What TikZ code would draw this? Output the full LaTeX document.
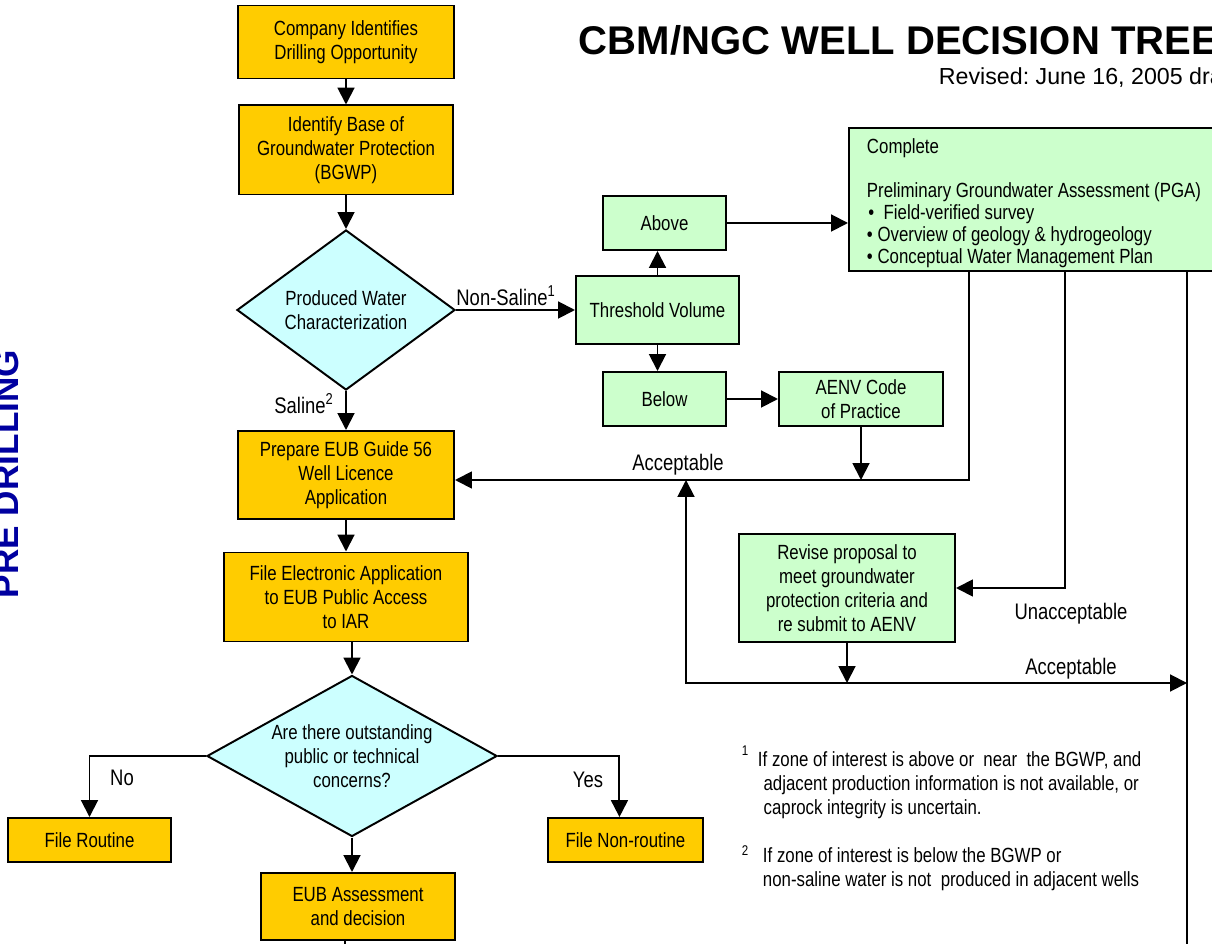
\documentclass[tikz,border=0pt]{standalone}
\usepackage{fontspec}
\setmainfont{Liberation Sans}
\newfontfamily\narrowfont[FakeStretch=0.82]{Liberation Sans}
\usetikzlibrary{arrows.meta,shapes.geometric}
\definecolor{wellorange}{HTML}{FFCC00}
\definecolor{wellgreen}{HTML}{CCFFCC}
\definecolor{wellcyan}{HTML}{CCFFFF}
\definecolor{wellblue}{HTML}{0000A0}
\frenchspacing

\begin{document}
\begin{tikzpicture}[x=0.025cm, y=-0.025cm, line width=1.4pt,
  box/.style={draw, line width=1.4pt, align=center, inner sep=0pt, font=\narrowfont\fontsize{14.6}{17}\selectfont},
  orangebox/.style={box, fill=wellorange},
  greenbox/.style={box, fill=wellgreen},
  decision/.style={box, diamond, fill=wellcyan},
  arr/.style={-{Triangle[length=12pt,width=12pt]}},
  arrboth/.style={{Triangle[length=12pt,width=12pt]}-{Triangle[length=12pt,width=12pt]}},
  lbl/.style={inner sep=0pt, font=\narrowfont\fontsize{16}{18}\selectfont},
  note/.style={inner sep=0pt, align=left, font=\narrowfont\fontsize{14.6}{17}\selectfont}]
% Page size in pixels of the original sheet
\useasboundingbox (0,0) rectangle (1212,944);

% Title and side heading
\node[anchor=west, inner sep=0pt, font=\bfseries\fontsize{28.5}{34}\selectfont] (title) at (578,40) {CBM/NGC WELL DECISION TREE};
\node[anchor=west, inner sep=0pt, font=\fontsize{16.5}{19}\selectfont] (revised) at (938,78) {Revised: June 16, 2005 draft};
\node[rotate=90, anchor=base, inner sep=0pt, text=wellblue, font=\bfseries\fontsize{25}{30}\selectfont] (stage) at (18,474) {PRE DRILLING};

% Main column
\node[orangebox, minimum width=5.4cm, minimum height=1.825cm] (company) at (346,42) {Company Identifies\\Drilling Opportunity};
\node[orangebox, minimum width=5.35cm, minimum height=2.225cm] (bgwp) at (346,150) {Identify Base of\\Groundwater Protection\\(BGWP)};
\node[decision, aspect=1.36, minimum width=5.45cm, minimum height=4cm] (water) at (346,310) {Produced Water\\Characterization};
\node[orangebox, minimum width=5.4cm, minimum height=2.2cm] (prepare) at (346,475) {Prepare EUB Guide 56\\Well Licence\\Application};
\node[orangebox, minimum width=6.1cm, minimum height=2.225cm] (efile) at (346,597) {File Electronic Application\\to EUB Public Access\\to IAR};
\node[decision, aspect=1.8, minimum width=7.25cm, minimum height=4.025cm] (concern) at (352,756) {Are there outstanding\\public or technical\\concerns?};
\node[orangebox, minimum width=4.075cm, minimum height=1.1cm] (routine) at (89.5,840) {File Routine};
\node[orangebox, minimum width=3.875cm, minimum height=1.1cm] (nonroutine) at (625.5,840) {File Non-routine};
\node[orangebox, minimum width=4.85cm, minimum height=1.675cm] (eub) at (358,906.5) {EUB Assessment\\and decision};

% Groundwater branch
\node[greenbox, minimum width=4.075cm, minimum height=1.7cm] (threshold) at (657.5,310) {Threshold Volume};
\node[greenbox, minimum width=3.075cm, minimum height=1.35cm] (above) at (664.5,223) {Above};
\node[greenbox, minimum width=3.075cm, minimum height=1.35cm] (below) at (664.5,399) {Below};
\node[greenbox, minimum width=4.1cm, minimum height=1.35cm] (aenv) at (861,399) {AENV Code\\of Practice};
\node[greenbox, anchor=north west, minimum width=10cm, minimum height=3.575cm] (pga) at (848,127) {};
\node[note, anchor=north west, font=\narrowfont\fontsize{14.6}{15.6}\selectfont] (pgatext) at (866,138) {Complete\\[15.6pt]Preliminary Groundwater Assessment (PGA)\\\hspace{1pt}\textbullet\ \ Field-verified survey\\\textbullet\ Overview of geology \& hydrogeology\\\textbullet\ Conceptual Water Management Plan};
\node[greenbox, minimum width=5.4cm, minimum height=2.7cm] (revise) at (847,588) {Revise proposal to\\meet groundwater\\protection criteria and\\re submit to AENV};

% Connector labels
\node[lbl] (salinelbl) at (304,404) {Saline\textsuperscript{2}};
\node[lbl] (nonsalinelbl) at (506,296) {Non-Saline\textsuperscript{1}};
\node[lbl] (acclbl) at (678,465) {Acceptable};
\node[lbl] (unacclbl) at (1071,614) {Unacceptable};
\node[lbl] (acclbl2) at (1071,669) {Acceptable};
\node[lbl] (nolbl) at (122,778) {No};
\node[lbl] (yeslbl) at (588,780) {Yes};

% Connectors
\draw[arr] (company) -- (bgwp);
\draw[arr] (bgwp) -- (water);
\draw[arr] (water) -- (prepare);
\draw[arr] (water.east) -- (threshold.west);
\draw[arr] (threshold.north) -- (threshold.north |- above.south);
\draw[arr] (threshold.south) -- (threshold.south |- below.north);
\draw[arr] (above) -- (above -| pga.west);
\draw[arr] (below) -- (aenv);
\coordinate (accept) at (969,480);
\draw[arr] (aenv.south) -- (aenv.south |- accept);
\draw[arr] (pga.south west -| accept) -- (accept) -- (accept -| prepare.east);
\coordinate (unaccept) at (1065,588);
\draw[arr] (pga.south west -| unaccept) -- (unaccept) -- (unaccept -| revise.east);
\coordinate (rightend) at (1187,950);
\draw (pga.south west -| rightend) -- (rightend);
\coordinate (loop) at (686,683);
\draw[arr] (revise.south) -- (revise.south |- loop);
\draw[arrboth] (loop |- accept) -- (loop) -- (loop -| rightend);
\draw[arr] (prepare) -- (efile);
\draw[arr] (efile.south -| concern.north) -- (concern.north);
\draw[arr] (concern.west) -| (routine.north);
\draw[arr] (concern.east) -| ([xshift=-4.3pt]nonroutine.north);
\draw[arr] (concern.south) -- (concern.south |- eub.north);
\coordinate (bottomend) at (345,950);
\draw (eub.south -| bottomend) -- (bottomend);

% Footnotes
\node[inner sep=0pt, font=\narrowfont\fontsize{10}{12}\selectfont] (mark1) at (745,751) {1};
\node[note, anchor=north west] (note1) at (757,751) {If zone of interest is above or\ \ near\ \ the BGWP, and\\\hspace{4pt}adjacent production information is not available, or\\\hspace{4pt}caprock integrity is uncertain.};
\node[inner sep=0pt, font=\narrowfont\fontsize{10}{12}\selectfont] (mark2) at (745,851) {2};
\node[note, anchor=north west] (note2) at (762,847) {If zone of interest is below the BGWP or\\non-saline water is not\ \ produced in adjacent wells};
\end{tikzpicture}
\end{document}
